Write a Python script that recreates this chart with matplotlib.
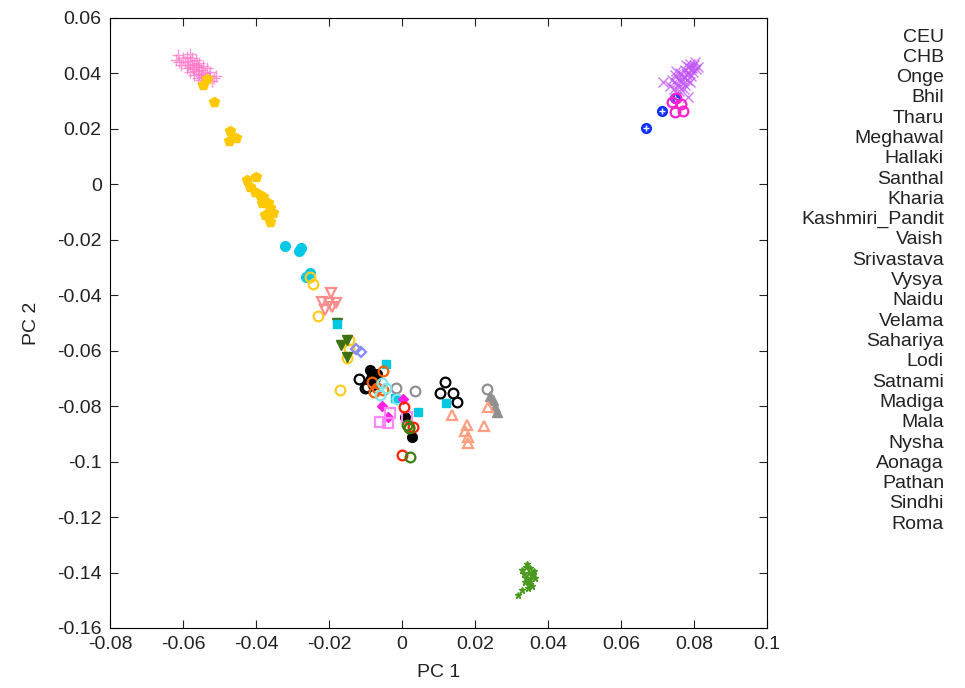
import matplotlib
matplotlib.use("Agg")
import matplotlib.pyplot as plt

plt.rcParams['font.family'] = ['Liberation Sans', 'DejaVu Sans']

groups = ["CEU", "CHB", "Onge", "Bhil", "Tharu", "Meghawal", "Hallaki", "Santhal",
          "Kharia", "Kashmiri_Pandit", "Vaish", "Srivastava", "Vysya", "Naidu",
          "Velama", "Sahariya", "Lodi", "Satnami", "Madiga", "Mala", "Nysha",
          "Aonaga", "Pathan", "Sindhi", "Roma"]

ceu_x = [-0.0614, -0.0580, -0.0600, -0.0590, -0.0575, -0.0595, -0.0580, -0.0565, -0.0605,
         -0.0585, -0.0570, -0.0555, -0.0590, -0.0575, -0.0560, -0.0545, -0.0580, -0.0565,
         -0.0550, -0.0535, -0.0570, -0.0555, -0.0540, -0.0525, -0.0560, -0.0545, -0.0530,
         -0.0515, -0.0550, -0.0535, -0.0520, -0.0510, -0.0620, -0.0610, -0.0572, -0.0562,
         -0.0548]
ceu_y = [0.0466, 0.0470, 0.0455, 0.0460, 0.0455, 0.0440, 0.0445, 0.0448, 0.0430,
         0.0432, 0.0435, 0.0438, 0.0418, 0.0422, 0.0425, 0.0428, 0.0405, 0.0410,
         0.0413, 0.0418, 0.0395, 0.0398, 0.0402, 0.0405, 0.0385, 0.0388, 0.0392,
         0.0385, 0.0375, 0.0378, 0.0372, 0.0390, 0.0450, 0.0440, 0.0415, 0.0432,
         0.0395]

chb_x = [0.0715, 0.0784, 0.0803, 0.0735, 0.0745, 0.0750, 0.0740, 0.0760, 0.0765, 0.0755,
         0.0748, 0.0775, 0.0780, 0.0770, 0.0762, 0.0790, 0.0792, 0.0785, 0.0775, 0.0798,
         0.0795, 0.0785, 0.0805, 0.0800, 0.0790, 0.0758, 0.0772, 0.0768, 0.0780, 0.0810,
         0.0752, 0.0778]
chb_y = [0.0369, 0.0315, 0.0440, 0.0355, 0.0345, 0.0365, 0.0375, 0.0350, 0.0370, 0.0385,
         0.0395, 0.0360, 0.0378, 0.0390, 0.0402, 0.0370, 0.0390, 0.0400, 0.0412, 0.0405,
         0.0420, 0.0425, 0.0415, 0.0430, 0.0435, 0.0338, 0.0345, 0.0380, 0.0395, 0.0425,
         0.0408, 0.0430]

onge_x = [0.0330, 0.0340, 0.0352, 0.0362, 0.0335, 0.0348, 0.0358, 0.0340, 0.0352, 0.0365,
          0.0338, 0.0350, 0.0345, 0.0329, 0.0318, 0.0355, 0.0342]
onge_y = [-0.1390, -0.1380, -0.1385, -0.1395, -0.1405, -0.1402, -0.1410, -0.1420, -0.1425,
          -0.1420, -0.1435, -0.1440, -0.1455, -0.1463, -0.1480, -0.1450, -0.1370]

bhil_x = [-0.0535, -0.0545, -0.0515, -0.0471, -0.0455, -0.0474, -0.0425, -0.0400, -0.0416,
          -0.0403, -0.0389, -0.0381, -0.0384, -0.0367, -0.0362, -0.0375, -0.0353, -0.0362]
bhil_y = [0.0379, 0.0358, 0.0297, 0.0192, 0.0167, 0.0156, 0.0016, 0.0027, -0.0010,
          -0.0028, -0.0038, -0.0046, -0.0067, -0.0067, -0.0085, -0.0110, -0.0103, -0.0136]

tharu_x = [-0.0320, -0.0282, -0.0277, -0.0263, -0.0252]
tharu_y = [-0.0222, -0.0240, -0.0230, -0.0334, -0.0320]

meghawal_x = [-0.0252, -0.0244, -0.0230, -0.0145, -0.0145, -0.0151]
meghawal_y = [-0.0334, -0.0360, -0.0475, -0.0561, -0.0594, -0.0626]

hallaki_x = [-0.0194, -0.0219, -0.0200, -0.0181, -0.0211, -0.0192]
hallaki_y = [-0.0392, -0.0424, -0.0428, -0.0428, -0.0453, -0.0442]

santhal_x = [-0.0178, -0.0151, -0.0167, -0.0151]
santhal_y = [-0.0500, -0.0561, -0.0579, -0.0623]

kharia_x = [-0.0178, -0.0044, -0.0019, 0.0044, 0.0121]
kharia_y = [-0.0504, -0.0648, -0.0771, -0.0821, -0.0789]

kashmiri_x = [-0.0126, -0.0112]
kashmiri_y = [-0.0594, -0.0605]

vaish_x = [-0.0118, -0.0096, -0.0101]
vaish_y = [-0.0702, -0.0731, -0.0735]

srivastava_x = [-0.0088, -0.0082, -0.0069, -0.0079, -0.0088, -0.0075, 0.0008, 0.0027]
srivastava_y = [-0.0670, -0.0690, -0.0684, -0.0724, -0.0706, -0.0700, -0.0839, -0.0911]

vysya_x = [-0.0052, -0.0082, -0.0068, -0.0077, -0.0052]
vysya_y = [-0.0673, -0.0713, -0.0735, -0.0749, -0.0742]

naidu_x = [-0.0016, 0.0036, 0.0233]
naidu_y = [-0.0735, -0.0745, -0.0738]

velama_x = [0.0240, 0.0249, 0.0255, 0.0260]
velama_y = [-0.0765, -0.0778, -0.0803, -0.0821]

sahariya_x = [0.0137, 0.0236, 0.0225, 0.0178, 0.0173, 0.0181, 0.0181]
sahariya_y = [-0.0832, -0.0803, -0.0872, -0.0868, -0.0890, -0.0911, -0.0933]

lodi_x = [-0.0055, -0.0045, -0.0060, -0.0015]
lodi_y = [-0.0715, -0.0735, -0.0760, -0.0775]

satnami_x = [-0.0055, -0.0038, 0.0003]
satnami_y = [-0.0800, -0.0839, -0.0774]

madiga_x = [-0.0033, -0.0038, 0.0014, -0.0060]
madiga_y = [-0.0825, -0.0861, -0.0839, -0.0857]

mala_x = [0.0006, 0.0019, 0.0030, 0.0000]
mala_y = [-0.0803, -0.0875, -0.0875, -0.0976]

nysha_x = [0.0014, 0.0020, 0.0022]
nysha_y = [-0.0868, -0.0879, -0.0983]

aonaga_x = [0.0669, 0.0712, 0.0748]
aonaga_y = [0.0203, 0.0266, 0.0311]

pathan_x = [0.0740, 0.0748, 0.0765, 0.0770, 0.0750]
pathan_y = [0.0297, 0.0261, 0.0290, 0.0265, 0.0311]

sindhi_x = [0.0118, 0.0104, 0.0140, 0.0151]
sindhi_y = [-0.0713, -0.0753, -0.0753, -0.0785]

roma_x = [-0.0170]
roma_y = [-0.0742]

data = {
    "CEU": (ceu_x, ceu_y), "CHB": (chb_x, chb_y), "Onge": (onge_x, onge_y),
    "Bhil": (bhil_x, bhil_y), "Tharu": (tharu_x, tharu_y),
    "Meghawal": (meghawal_x, meghawal_y), "Hallaki": (hallaki_x, hallaki_y),
    "Santhal": (santhal_x, santhal_y), "Kharia": (kharia_x, kharia_y),
    "Kashmiri_Pandit": (kashmiri_x, kashmiri_y), "Vaish": (vaish_x, vaish_y),
    "Srivastava": (srivastava_x, srivastava_y), "Vysya": (vysya_x, vysya_y),
    "Naidu": (naidu_x, naidu_y), "Velama": (velama_x, velama_y),
    "Sahariya": (sahariya_x, sahariya_y), "Lodi": (lodi_x, lodi_y),
    "Satnami": (satnami_x, satnami_y), "Madiga": (madiga_x, madiga_y),
    "Mala": (mala_x, mala_y), "Nysha": (nysha_x, nysha_y),
    "Aonaga": (aonaga_x, aonaga_y), "Pathan": (pathan_x, pathan_y),
    "Sindhi": (sindhi_x, sindhi_y), "Roma": (roma_x, roma_y),
}

# marker, color, filled, size
styles = {
    "CEU": ('+', '#ff78c8', True, 9),
    "CHB": ('x', '#c050f5', True, 7),
    "Onge": ('*', '#4a9a20', True, 5),
    "Bhil": ('p', '#ffc800', True, 7),
    "Tharu": ('o', '#00c8e6', True, 7),
    "Meghawal": ('o', '#ffcc22', False, 7),
    "Hallaki": ('v', '#ff8c8c', False, 7),
    "Santhal": ('v', '#3d7010', True, 7),
    "Kharia": ('s', '#00c8e0', True, 6),
    "Kashmiri_Pandit": ('D', '#8888ff', False, 5),
    "Vaish": ('o', '#000000', False, 7),
    "Srivastava": ('o', '#000000', True, 7),
    "Vysya": ('o', '#ff6000', False, 7),
    "Naidu": ('o', '#909090', False, 7),
    "Velama": ('^', '#909090', True, 7),
    "Sahariya": ('^', '#ff9f7f', False, 7),
    "Lodi": ('o', '#80e8f0', False, 7),
    "Satnami": ('D', '#ff20e0', True, 5),
    "Madiga": ('s', '#ff88ff', False, 7),
    "Mala": ('o', '#ff2000', False, 7),
    "Nysha": ('o', '#3d8010', False, 7),
    "Aonaga": ('o', '#1030ff', True, 7),
    "Pathan": ('o', '#ff20d0', False, 7),
    "Sindhi": ('o', '#000000', False, 7),
    "Roma": ('o', '#ffcc22', False, 7),
}

fig = plt.figure(figsize=(9.65, 6.88), dpi=100)
ax = fig.add_axes([110 / 965, 60 / 688, 657 / 965, 610 / 688])

for g in groups:
    xs, ys = data[g]
    m, c, filled, s = styles[g]
    if m in ('+', 'x'):
        ax.plot(xs, ys, linestyle='none', marker=m, color=c, markersize=s,
                markeredgewidth=1.0, alpha=0.75)
    elif filled:
        ax.plot(xs, ys, linestyle='none', marker=m, markerfacecolor=c,
                markeredgecolor=c, markersize=s, markeredgewidth=1.0)
    else:
        ax.plot(xs, ys, linestyle='none', marker=m, markerfacecolor='none',
                markeredgecolor=c, markersize=s, markeredgewidth=1.6)
    if g == "Aonaga":
        ax.plot(xs, ys, linestyle='none', marker='+', color='white',
                markersize=4, markeredgewidth=1.0)

ax.set_xlim(-0.08, 0.1)
ax.set_ylim(-0.16, 0.06)
xt = [-0.08, -0.06, -0.04, -0.02, 0, 0.02, 0.04, 0.06, 0.08, 0.1]
yt = [-0.16, -0.14, -0.12, -0.1, -0.08, -0.06, -0.04, -0.02, 0, 0.02, 0.04, 0.06]
ax.set_xticks(xt)
ax.set_xticklabels(["-0.08", "-0.06", "-0.04", "-0.02", "0", "0.02", "0.04", "0.06", "0.08", "0.1"])
ax.set_yticks(yt)
ax.set_yticklabels(["-0.16", "-0.14", "-0.12", "-0.1", "-0.08", "-0.06", "-0.04", "-0.02",
                    "0", "0.02", "0.04", "0.06"])
ax.tick_params(direction='in', length=6, width=0.8, top=True, right=True,
               labelsize=14, pad=6, colors='#222222')
for sp in ax.spines.values():
    sp.set_linewidth(0.8)
ax.set_xlabel("PC 1", fontsize=14, color='#222222', labelpad=8)
ax.set_ylabel("PC 2", fontsize=14, color='#222222', labelpad=12)

# legend-like labels (no visible keys)
for i, g in enumerate(groups):
    fig.text(944 / 965, 1 - (37 + i * 20.3) / 688, g, ha='right', va='center',
             fontsize=14, color='#222222')

fig.savefig("out.png", dpi=100)
